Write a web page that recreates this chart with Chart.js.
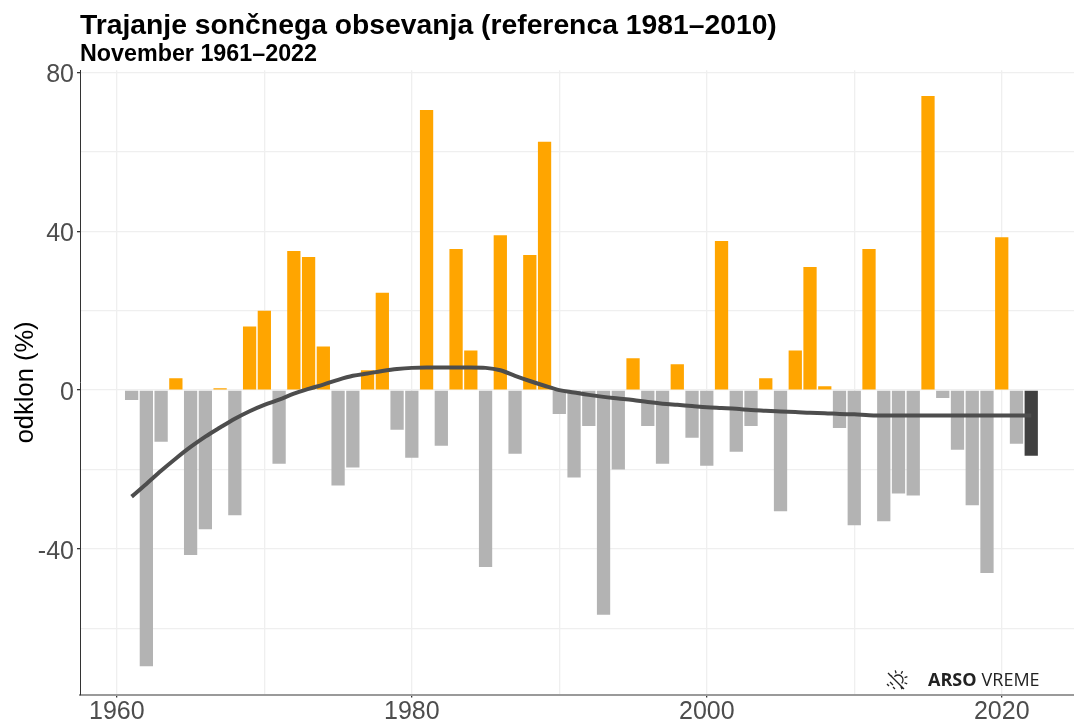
<!DOCTYPE html>
<html>
<head>
<meta charset="utf-8">
<style>
  html, body { margin: 0; padding: 0; background: #fff; }
  #wrap { width: 1074px; height: 722px; }
</style>
<script src="https://cdn.jsdelivr.net/npm/chart.js@4"></script>
</head>
<body>
<div id="wrap"><canvas id="chart"></canvas></div>
<script>
const years = [1961,1962,1963,1964,1965,1966,1967,1968,1969,1970,1971,1972,1973,1974,1975,1976,1977,1978,1979,1980,
  1981,1982,1983,1984,1985,1986,1987,1988,1989,1990,1991,1992,1993,1994,1995,1996,1997,1998,1999,2000,
  2001,2002,2003,2004,2005,2006,2007,2008,2009,2010,2011,2012,2013,2014,2015,2016,2017,2018,2019,2020,2021,2022];
const odklon = [-2.5,-69.5,-13,3,-41.5,-35,0.5,-31.5,16,20,-18.5,35,33.5,11,-24,-19.5,5,24.5,-10,-17,
  70.5,-14,35.5,10,-44.5,39,-16,34,62.5,-6,-22,-9,-56.5,-20,8,-9,-18.5,6.5,-12,-19,
  37.5,-15.5,-9,3,-30.5,10,31,1,-9.5,-34,35.5,-33,-26,-26.5,74,-2,-15,-29,-46,38.5,-13.5,-16.5];
const trend = [-26.8,-23.6,-20.3,-17.2,-14.3,-11.7,-9.4,-7.2,-5.3,-3.7,-2.4,-0.9,0.3,1.4,2.6,3.6,4.2,4.8,5.3,5.6,
  5.7,5.7,5.7,5.7,5.6,5,3.6,2.3,1.1,0,-0.6,-1.2,-1.7,-2.1,-2.5,-3,-3.4,-3.7,-4,-4.3,
  -4.5,-4.7,-5,-5.2,-5.4,-5.5,-5.7,-5.8,-6,-6.1,-6.3,-6.4,-6.4,-6.4,-6.4,-6.4,-6.4,-6.4,-6.4,-6.4,-6.4,-6.4];
const yLabels = [80, 40, 0, -40];
const xLabels = [1960, 1980, 2000, 2020];
const naslov = "Trajanje sončnega obsevanja (referenca 1981–2010)";
const podnaslov = "November 1961–2022";

const barColor = (i) => {
  if (years[i] === 2022) return "#404040";
  return odklon[i] >= 0 ? "#FFA500" : "#B3B3B3";
};

// logotip spodaj desno
const logoPlugin = {
  id: "logo",
  afterDatasetsDraw(chart) {
    const c = chart.ctx;
    c.save();
    c.strokeStyle = "#222";
    c.lineWidth = 1.3;
    const cx = 897, cy = 681;
    c.beginPath();
    c.arc(cx + 1, cy - 1, 5, -2.4, 0.75);
    for (let a = -2.6; a < 1.2; a += 0.75) {
      c.moveTo(cx + 1 + Math.cos(a) * 7, cy - 1 + Math.sin(a) * 7);
      c.lineTo(cx + 1 + Math.cos(a) * 10, cy - 1 + Math.sin(a) * 10);
    }
    c.moveTo(cx - 9, cy - 8);
    c.lineTo(cx + 7, cy + 8);
    c.moveTo(cx - 7, cy + 1);
    c.lineTo(cx - 4, cy + 4);
    c.moveTo(cx - 10, cy + 3);
    c.lineTo(cx - 8, cy + 5);
    c.moveTo(cx - 4, cy + 6);
    c.lineTo(cx - 2, cy + 8);
    c.stroke();
    c.fillStyle = "#222";
    c.textBaseline = "middle";
    c.textAlign = "left";
    c.font = "bold 18px 'Open Sans'";
    c.fillText("ARSO", 928, 681);
    const w = c.measureText("ARSO").width;
    c.font = "18px 'Open Sans'";
    c.fillText("VREME", 928 + w + 5, 681);
    c.restore();
  }
};

new Chart(document.getElementById("chart"), {
  data: {
    datasets: [
      {
        type: "line",
        label: "trend",
        data: years.map((y, i) => ({ x: y, y: trend[i] })),
        borderColor: "#4D4D4D",
        borderWidth: 4,
        pointRadius: 0,
        tension: 0.4,
        cubicInterpolationMode: "monotone",
        order: 1
      },
      {
        type: "bar",
        label: "odklon",
        data: years.map((y, i) => ({ x: y, y: odklon[i] })),
        backgroundColor: years.map((y, i) => barColor(i)),
        barPercentage: 0.9,
        categoryPercentage: 1,
        order: 2
      }
    ]
  },
  options: {
    responsive: true,
    maintainAspectRatio: false,
    animation: false,
    layout: { padding: { left: 11 } },
    plugins: {
      legend: { display: false },
      tooltip: { enabled: false },
      title: {
        display: true,
        text: naslov,
        align: "start",
        fullSize: false,
        color: "#000",
        font: { family: "'Liberation Sans'", size: 28.3, weight: "bold" },
        padding: { top: 9, bottom: 0 }
      },
      subtitle: {
        display: true,
        text: podnaslov,
        align: "start",
        fullSize: false,
        color: "#000",
        font: { family: "'Liberation Sans'", size: 23.3, weight: "bold", lineHeight: 1 },
        padding: { top: 0, bottom: 4 }
      }
    },
    scales: {
      x: {
        type: "linear",
        offset: false,
        min: 1957.5,
        max: 2024.9,
        grid: {
          offset: false,
          color: "#EFEFEF",
          lineWidth: 1.3,
          tickLength: 3,
          tickColor: (ctx) => (xLabels.includes(ctx.tick && ctx.tick.value) ? "#333" : "rgba(0,0,0,0)")
        },
        border: { color: "#9A9A9A", width: 2 },
        afterBuildTicks(s) {
          s.ticks = [];
          for (let v = 1960; v <= 2020; v += 10) s.ticks.push({ value: v });
        },
        afterFit(s) { s.height = 27.5; },
        ticks: {
          autoSkip: false,
          maxRotation: 0,
          color: "#4D4D4D",
          padding: 0,
          font: { family: "'Liberation Sans'", size: 25 },
          callback: (v) => (xLabels.includes(v) ? String(v) : "")
        }
      },
      y: {
        min: -76.6,
        max: 80.5,
        grid: {
          color: "#EFEFEF",
          lineWidth: 1.3,
          tickLength: 3,
          tickColor: (ctx) => (yLabels.includes(ctx.tick && ctx.tick.value) ? "#333" : "rgba(0,0,0,0)")
        },
        border: { color: "#333", width: 1 },
        afterBuildTicks(s) {
          s.ticks = [];
          for (let v = -60; v <= 80; v += 20) s.ticks.push({ value: v });
        },
        afterFit(s) { s.width = 69; },
        title: {
          display: true,
          text: "odklon (%)",
          color: "#000",
          font: { family: "'Liberation Sans'", size: 25.5 },
          padding: { top: 0, bottom: 0 }
        },
        ticks: {
          autoSkip: false,
          color: "#4D4D4D",
          padding: 3,
          labelOffset: 3,
          font: { family: "'Liberation Sans'", size: 25 },
          callback: (v) => (yLabels.includes(v) ? String(v) : "")
        }
      }
    }
  },
  plugins: [logoPlugin]
});
</script>
</body>
</html>
